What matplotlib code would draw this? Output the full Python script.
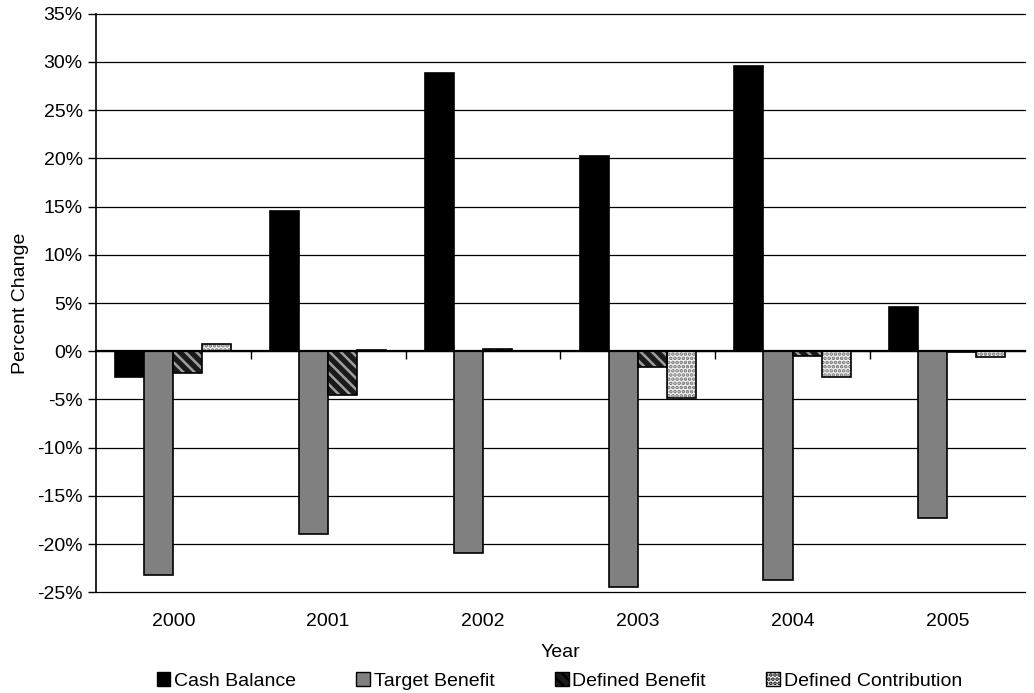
import matplotlib
matplotlib.use("Agg")
import matplotlib.pyplot as plt
from matplotlib.patches import Patch
import numpy as np

plt.rcParams['font.family'] = ['Liberation Sans', 'DejaVu Sans']
plt.rcParams['hatch.linewidth'] = 1.8

years = ['2000', '2001', '2002', '2003', '2004', '2005']
series = ['Cash Balance', 'Target Benefit', 'Defined Benefit', 'Defined Contribution']
cash_balance = [-2.7, 14.5, 28.9, 20.2, 29.6, 4.6]
target_benefit = [-23.2, -19.0, -20.9, -24.5, -23.7, -17.3]
defined_benefit = [-2.3, -4.5, 0.2, -1.6, -0.5, -0.05]
defined_contribution = [0.7, 0.1, 0.0, -4.8, -2.7, -0.6]

values = [cash_balance, target_benefit, defined_benefit, defined_contribution]
# face colour, hatch, hatch colour per series
styles = [
    ('black', None, None),
    ('#808080', None, None),
    ('#1a1a1a', '\\\\\\', '#a0a0a0'),
    ('#f4f4f4', '....', '#707070'),
]

FS = 14

fig = plt.figure(figsize=(10.34, 6.93), dpi=100)
ax = fig.add_axes([0.0928, 0.1453, 0.8982, 0.8349])

x = np.arange(len(years))
width = 0.1875
offsets = (np.arange(4) - 1.5) * width

for vals, (fc, hatch, hc), off in zip(values, styles, offsets):
    if hatch:
        ax.bar(x + off, vals, width, color=fc, hatch=hatch, edgecolor=hc,
               linewidth=0, zorder=3)
        ax.bar(x + off, vals, width, fill=False, edgecolor='black',
               linewidth=1.2, zorder=4)
    else:
        ax.bar(x + off, vals, width, color=fc, edgecolor='black',
               linewidth=1.2, zorder=3)

ax.set_xlim(-0.5, len(years) - 0.5)
ax.set_ylim(-25, 35)
yt = np.arange(-25, 36, 5)
ax.set_yticks(yt)
ax.set_yticklabels([f'{v}%' for v in yt], fontsize=FS)
for v in yt:
    ax.axhline(v, color='black', linewidth=0.9, zorder=0, clip_on=False)
ax.tick_params(axis='y', direction='out', length=6, width=1, colors='black')

for s in ['top', 'right']:
    ax.spines[s].set_visible(False)
ax.spines['left'].set_linewidth(1.2)
ax.spines['bottom'].set_position(('data', 0))
ax.spines['bottom'].set_linewidth(1.6)
ax.spines['bottom'].set_zorder(5)

# category boundary ticks on the zero line
ax.set_xticks(np.arange(0.5, len(years) - 0.5, 1))
ax.set_xticklabels([])
ax.tick_params(axis='x', direction='out', length=6, width=1)

# category labels along the bottom of the plot
sec = ax.secondary_xaxis(0)
sec.set_xticks(x)
sec.set_xticklabels(years, fontsize=FS)
sec.tick_params(length=0, pad=15)
sec.spines['bottom'].set_visible(False)
sec.set_xlabel('Year', fontsize=FS, labelpad=10)

ax.set_ylabel('Percent Change', fontsize=FS, labelpad=6)

handles = []
for name, (fc, hatch, hc) in zip(series, styles):
    if hatch:
        handles.append(Patch(facecolor=fc, hatch=hatch, edgecolor='black',
                             linewidth=1, label=name))
    else:
        handles.append(Patch(facecolor=fc, edgecolor='black', linewidth=1,
                             label=name))

fig.legend(handles=handles, loc='center', bbox_to_anchor=(0.541, 0.017),
           ncol=4, frameon=False, fontsize=FS, handlelength=0.7,
           handleheight=0.7, handletextpad=0.2, columnspacing=3.1)

fig.savefig('out.png', dpi=100)
